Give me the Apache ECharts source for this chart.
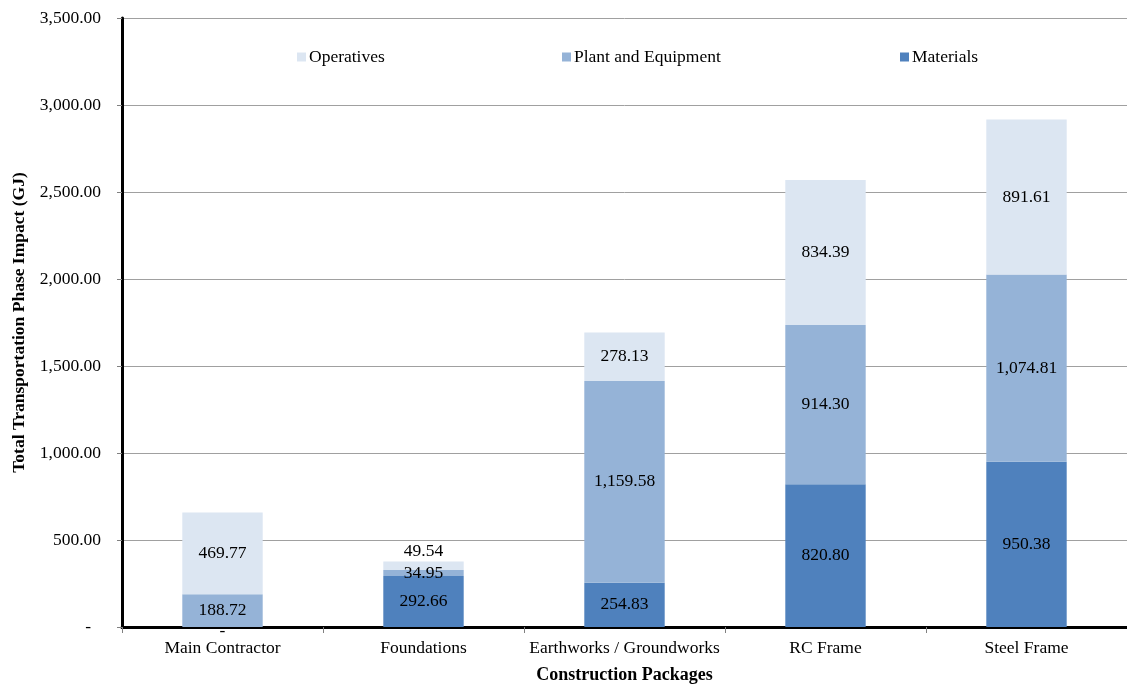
<!DOCTYPE html>
<html>
<head>
<meta charset="utf-8">
<title>Total Transportation Phase Impact by Construction Package</title>
<script src="https://cdn.jsdelivr.net/npm/echarts@6/dist/echarts.min.js"></script>
<style>
  html, body { margin: 0; padding: 0; background: #ffffff; }
  #chart { width: 1127px; height: 685px; }
</style>
</head>
<body>
<div id="chart"></div>
<script>
// Construction packages along the x axis
const categories = ['Main Contractor', 'Foundations', 'Earthworks / Groundworks', 'RC Frame', 'Steel Frame'];

// Transportation phase impact (GJ), stacked bottom to top
const materials  = [0, 292.66, 254.83, 820.80, 950.38];
const plantEquip = [188.72, 34.95, 1159.58, 914.30, 1074.81];
const operatives = [469.77, 49.54, 278.13, 834.39, 891.61];

// Value axis ticks
const yMin = 0;
const yMax = 3500;
const yStep = 500;

const FONT = "'Liberation Serif', 'Times New Roman', serif";
const COLORS = { materials: '#4f81bd', plant: '#95b3d7', operatives: '#dce6f2' };

function fmt(v) {
  if (v === 0) return '-';
  return v.toLocaleString('en-US', { minimumFractionDigits: 2, maximumFractionDigits: 2 });
}

const labelStyle = {
  show: true,
  position: 'inside',
  color: '#000000',
  fontFamily: FONT,
  fontSize: 17.5,
  formatter: p => fmt(p.value)
};

// Zero-height segment: its dash label sits just under the axis
const materialsData = materials.map(v =>
  (v === 0) ? { value: v, label: { position: 'inside', offset: [0, 4] } } : v
);

// Small segment whose label sits above the bar
const operativesData = operatives.map((v, i) =>
  (i === 1) ? { value: v, label: { position: 'top', distance: 1 } } : v
);

const chart = echarts.init(document.getElementById('chart'), null, { renderer: 'canvas' });

function legendAt(name, left) {
  return {
    data: [name],
    left: left,
    top: 48,
    icon: 'rect',
    itemWidth: 9,
    itemHeight: 9,
    itemGap: 0,
    padding: 0,
    selectedMode: false,
    textStyle: { fontFamily: FONT, fontSize: 17.5, color: '#000000', padding: [0, 0, 0, -2] }
  };
}

chart.setOption({
  backgroundColor: '#ffffff',
  animation: false,
  legend: [
    legendAt('Operatives', 297),
    legendAt('Plant and Equipment', 562),
    legendAt('Materials', 900)
  ],
  grid: { left: 122, right: 0, top: 18, bottom: 58, containLabel: false, outerBoundsMode: 'none' },
  xAxis: {
    type: 'category',
    data: categories,
    name: 'Construction Packages',
    nameLocation: 'middle',
    nameGap: 39,
    nameTextStyle: { fontFamily: FONT, fontSize: 18, fontWeight: 'bold', color: '#000000' },
    axisLine: { lineStyle: { color: '#000000', width: 3 } },
    axisTick: { show: true, length: 6, lineStyle: { color: '#808080', width: 1 } },
    axisLabel: { interval: 0, fontFamily: FONT, fontSize: 17.5, color: '#000000', margin: 12 }
  },
  yAxis: {
    type: 'value',
    min: yMin,
    max: yMax,
    interval: yStep,
    name: 'Total Transportation Phase Impact (GJ)',
    nameLocation: 'middle',
    nameGap: 93,
    nameTextStyle: { fontFamily: FONT, fontSize: 17.5, fontWeight: 'bold', color: '#000000' },
    axisLine: { show: true, lineStyle: { color: '#000000', width: 3 } },
    axisTick: { show: true, length: 5, lineStyle: { color: '#808080', width: 1 } },
    axisLabel: {
      fontFamily: FONT, fontSize: 17.5, color: '#000000', margin: 21,
      formatter: v => (v === 0 ? '{dash|-}' : fmt(v)),
      rich: { dash: { fontFamily: FONT, fontSize: 17.5, color: '#000000', padding: [0, 10, 0, 0] } }
    },
    splitLine: { show: true, lineStyle: { color: '#a0a0a0', width: 1 } }
  },
  series: [
    {
      name: 'Materials', type: 'bar', stack: 'total', barWidth: '40%',
      itemStyle: { color: COLORS.materials },
      label: labelStyle,
      data: materialsData
    },
    {
      name: 'Plant and Equipment', type: 'bar', stack: 'total', barWidth: '40%',
      itemStyle: { color: COLORS.plant },
      label: labelStyle,
      data: plantEquip
    },
    {
      name: 'Operatives', type: 'bar', stack: 'total', barWidth: '40%',
      itemStyle: { color: COLORS.operatives },
      label: labelStyle,
      data: operativesData
    }
  ]
});
</script>
</body>
</html>
